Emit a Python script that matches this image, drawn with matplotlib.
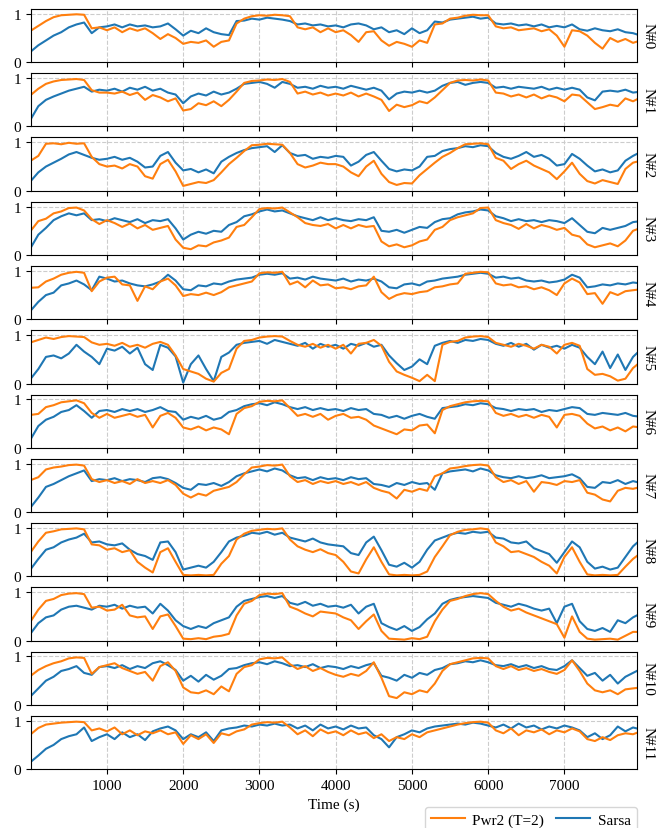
import numpy as np
import matplotlib
matplotlib.use("Agg")
import matplotlib.pyplot as plt

# Sampling instants (s) for every trace
times = np.arange(0, 8001, 100)

node_labels = [f"N#{i}" for i in range(12)]
series_names = ["Pwr2 (T=2)", "Sarsa"]

# ---- per-node traces: Pwr2 (T=2) and Sarsa ----
pwr2_n0 = [
    0.65, 0.75, 0.85, 0.93, 0.97, 0.98, 0.99, 0.98, 0.70, 0.72,
    0.66, 0.72, 0.62, 0.70, 0.65, 0.70, 0.60, 0.48, 0.58, 0.50,
    0.38, 0.42, 0.40, 0.45, 0.32, 0.42, 0.45, 0.80, 0.90, 0.95,
    0.97, 0.96, 0.98, 0.97, 0.95, 0.72, 0.68, 0.72, 0.62, 0.70,
    0.62, 0.66, 0.56, 0.42, 0.62, 0.64, 0.45, 0.34, 0.42, 0.38,
    0.32, 0.45, 0.40, 0.78, 0.80, 0.90, 0.92, 0.96, 0.98, 0.97,
    0.97, 0.74, 0.70, 0.72, 0.66, 0.68, 0.70, 0.64, 0.68, 0.55,
    0.32, 0.66, 0.64, 0.55, 0.40, 0.28, 0.50, 0.42, 0.48, 0.40, 0.45]
sarsa_n0 = [
    0.22, 0.35, 0.45, 0.55, 0.62, 0.72, 0.78, 0.82, 0.60, 0.72,
    0.74, 0.78, 0.72, 0.78, 0.74, 0.76, 0.72, 0.74, 0.80, 0.68,
    0.55, 0.65, 0.60, 0.70, 0.62, 0.58, 0.56, 0.85, 0.86, 0.90,
    0.88, 0.92, 0.90, 0.88, 0.85, 0.78, 0.80, 0.76, 0.78, 0.74,
    0.76, 0.72, 0.78, 0.80, 0.76, 0.68, 0.72, 0.62, 0.66, 0.58,
    0.70, 0.60, 0.66, 0.84, 0.82, 0.88, 0.90, 0.92, 0.94, 0.90,
    0.92, 0.80, 0.78, 0.80, 0.76, 0.78, 0.74, 0.78, 0.72, 0.75,
    0.72, 0.78, 0.68, 0.65, 0.70, 0.66, 0.64, 0.68, 0.62, 0.60, 0.55]

pwr2_n1 = [
    0.65, 0.78, 0.88, 0.93, 0.96, 0.97, 0.98, 0.96, 0.75, 0.70,
    0.70, 0.68, 0.72, 0.65, 0.70, 0.55, 0.65, 0.60, 0.52, 0.58,
    0.33, 0.36, 0.48, 0.44, 0.52, 0.42, 0.55, 0.72, 0.90, 0.94,
    0.95, 0.97, 0.96, 0.98, 0.92, 0.68, 0.72, 0.66, 0.70, 0.64,
    0.68, 0.64, 0.70, 0.62, 0.68, 0.62, 0.55, 0.32, 0.45, 0.40,
    0.44, 0.52, 0.48, 0.60, 0.75, 0.90, 0.95, 0.96, 0.95, 0.97,
    0.95, 0.70, 0.68, 0.62, 0.66, 0.60, 0.66, 0.58, 0.64, 0.60,
    0.52, 0.66, 0.64, 0.50, 0.36, 0.40, 0.45, 0.42, 0.58, 0.52, 0.60]
sarsa_n1 = [
    0.15, 0.42, 0.55, 0.62, 0.68, 0.74, 0.78, 0.82, 0.72, 0.76,
    0.74, 0.78, 0.72, 0.80, 0.76, 0.82, 0.74, 0.78, 0.70, 0.66,
    0.48, 0.62, 0.68, 0.64, 0.72, 0.66, 0.70, 0.78, 0.88, 0.90,
    0.92, 0.88, 0.80, 0.92, 0.88, 0.80, 0.82, 0.78, 0.84, 0.80,
    0.82, 0.78, 0.84, 0.80, 0.76, 0.80, 0.74, 0.56, 0.68, 0.72,
    0.70, 0.74, 0.70, 0.74, 0.84, 0.90, 0.92, 0.86, 0.90, 0.92,
    0.90, 0.80, 0.82, 0.78, 0.82, 0.80, 0.78, 0.82, 0.76, 0.80,
    0.76, 0.80, 0.76, 0.60, 0.54, 0.72, 0.74, 0.72, 0.76, 0.70, 0.72]

pwr2_n2 = [
    0.62, 0.72, 0.97, 0.98, 0.96, 0.99, 0.97, 0.98, 0.70, 0.55,
    0.50, 0.52, 0.46, 0.55, 0.50, 0.30, 0.25, 0.55, 0.64, 0.40,
    0.10, 0.14, 0.18, 0.16, 0.22, 0.38, 0.55, 0.68, 0.82, 0.94,
    0.95, 0.97, 0.96, 0.95, 0.78, 0.55, 0.48, 0.52, 0.58, 0.55,
    0.55, 0.50, 0.38, 0.30, 0.50, 0.62, 0.35, 0.18, 0.12, 0.16,
    0.15, 0.32, 0.45, 0.58, 0.70, 0.78, 0.88, 0.96, 0.97, 0.98,
    0.96, 0.68, 0.62, 0.45, 0.55, 0.62, 0.52, 0.45, 0.38, 0.24,
    0.40, 0.58, 0.35, 0.20, 0.15, 0.22, 0.18, 0.14, 0.45, 0.58, 0.62]
sarsa_n2 = [
    0.20, 0.38, 0.50, 0.58, 0.66, 0.75, 0.80, 0.74, 0.68, 0.64,
    0.66, 0.70, 0.64, 0.68, 0.60, 0.48, 0.50, 0.72, 0.80, 0.58,
    0.42, 0.45, 0.38, 0.44, 0.36, 0.60, 0.70, 0.78, 0.84, 0.88,
    0.90, 0.92, 0.80, 0.94, 0.78, 0.72, 0.74, 0.66, 0.70, 0.68,
    0.72, 0.70, 0.52, 0.60, 0.74, 0.80, 0.62, 0.45, 0.40, 0.44,
    0.42, 0.50, 0.70, 0.72, 0.82, 0.86, 0.88, 0.92, 0.90, 0.94,
    0.92, 0.78, 0.70, 0.66, 0.72, 0.80, 0.70, 0.74, 0.66, 0.52,
    0.55, 0.76, 0.66, 0.52, 0.40, 0.44, 0.38, 0.42, 0.62, 0.72, 0.80]

pwr2_n3 = [
    0.50, 0.70, 0.75, 0.86, 0.90, 0.97, 0.98, 0.92, 0.74, 0.64,
    0.72, 0.66, 0.58, 0.65, 0.55, 0.62, 0.52, 0.56, 0.60, 0.32,
    0.15, 0.12, 0.20, 0.18, 0.26, 0.30, 0.36, 0.58, 0.62, 0.78,
    0.95, 0.97, 0.96, 0.98, 0.88, 0.78, 0.66, 0.62, 0.60, 0.64,
    0.55, 0.62, 0.55, 0.62, 0.58, 0.60, 0.28, 0.18, 0.22, 0.16,
    0.20, 0.28, 0.32, 0.52, 0.58, 0.72, 0.78, 0.82, 0.86, 0.97,
    0.98, 0.72, 0.66, 0.62, 0.54, 0.64, 0.55, 0.62, 0.58, 0.52,
    0.56, 0.42, 0.38, 0.22, 0.16, 0.20, 0.24, 0.18, 0.30, 0.50, 0.56]
sarsa_n3 = [
    0.15, 0.42, 0.56, 0.72, 0.80, 0.86, 0.82, 0.86, 0.72, 0.74,
    0.70, 0.76, 0.72, 0.68, 0.74, 0.66, 0.72, 0.70, 0.74, 0.55,
    0.32, 0.42, 0.48, 0.44, 0.50, 0.48, 0.62, 0.68, 0.80, 0.84,
    0.90, 0.94, 0.90, 0.92, 0.86, 0.80, 0.76, 0.72, 0.78, 0.72,
    0.76, 0.72, 0.70, 0.74, 0.72, 0.78, 0.50, 0.48, 0.52, 0.46,
    0.52, 0.58, 0.56, 0.68, 0.74, 0.76, 0.84, 0.88, 0.90, 0.94,
    0.92, 0.80, 0.76, 0.70, 0.74, 0.70, 0.72, 0.68, 0.72, 0.70,
    0.66, 0.76, 0.62, 0.48, 0.45, 0.56, 0.52, 0.56, 0.60, 0.68, 0.70]

pwr2_n4 = [
    0.65, 0.66, 0.78, 0.84, 0.92, 0.96, 0.98, 0.96, 0.58, 0.78,
    0.86, 0.88, 0.72, 0.70, 0.38, 0.68, 0.62, 0.78, 0.84, 0.70,
    0.48, 0.52, 0.50, 0.55, 0.50, 0.56, 0.66, 0.70, 0.74, 0.78,
    0.95, 0.97, 0.96, 0.98, 0.72, 0.78, 0.66, 0.80, 0.70, 0.72,
    0.64, 0.66, 0.62, 0.68, 0.70, 0.88, 0.56, 0.42, 0.50, 0.54,
    0.52, 0.56, 0.58, 0.66, 0.68, 0.72, 0.74, 0.94, 0.96, 0.98,
    0.97, 0.74, 0.70, 0.72, 0.66, 0.68, 0.62, 0.66, 0.60, 0.50,
    0.74, 0.84, 0.76, 0.52, 0.54, 0.32, 0.56, 0.50, 0.58, 0.60, 0.62]
sarsa_n4 = [
    0.18, 0.36, 0.50, 0.55, 0.70, 0.74, 0.80, 0.72, 0.60, 0.88,
    0.84, 0.78, 0.80, 0.74, 0.70, 0.68, 0.72, 0.78, 0.92, 0.80,
    0.62, 0.60, 0.70, 0.68, 0.74, 0.72, 0.78, 0.82, 0.84, 0.86,
    0.92, 0.94, 0.92, 0.95, 0.84, 0.86, 0.82, 0.88, 0.84, 0.82,
    0.80, 0.84, 0.78, 0.82, 0.80, 0.84, 0.78, 0.66, 0.64, 0.72,
    0.74, 0.70, 0.78, 0.80, 0.84, 0.86, 0.88, 0.92, 0.94, 0.96,
    0.94, 0.86, 0.88, 0.84, 0.86, 0.80, 0.78, 0.80, 0.76, 0.78,
    0.82, 0.92, 0.86, 0.66, 0.68, 0.72, 0.70, 0.74, 0.72, 0.76, 0.74]

pwr2_n5 = [
    0.85, 0.90, 0.95, 0.92, 0.96, 0.98, 0.97, 0.96, 0.85, 0.80,
    0.82, 0.78, 0.84, 0.76, 0.80, 0.74, 0.82, 0.86, 0.80, 0.58,
    0.30, 0.25, 0.20, 0.10, 0.04, 0.22, 0.30, 0.72, 0.88, 0.90,
    0.95, 0.97, 0.98, 0.97, 0.88, 0.80, 0.76, 0.82, 0.74, 0.80,
    0.72, 0.80, 0.62, 0.82, 0.84, 0.90, 0.78, 0.45, 0.25, 0.18,
    0.12, 0.05, 0.18, 0.05, 0.80, 0.86, 0.88, 0.95, 0.97, 0.98,
    0.96, 0.84, 0.80, 0.76, 0.82, 0.78, 0.72, 0.80, 0.76, 0.62,
    0.80, 0.84, 0.78, 0.30, 0.18, 0.20, 0.15, 0.06, 0.10, 0.32, 0.45]
sarsa_n5 = [
    0.10, 0.30, 0.55, 0.58, 0.52, 0.62, 0.80, 0.66, 0.55, 0.40,
    0.72, 0.68, 0.76, 0.62, 0.74, 0.40, 0.28, 0.80, 0.74, 0.56,
    0.02, 0.40, 0.58, 0.30, 0.05, 0.55, 0.64, 0.80, 0.84, 0.86,
    0.88, 0.82, 0.90, 0.86, 0.82, 0.78, 0.84, 0.72, 0.82, 0.76,
    0.80, 0.72, 0.82, 0.78, 0.84, 0.76, 0.80, 0.58, 0.42, 0.28,
    0.35, 0.50, 0.40, 0.78, 0.84, 0.88, 0.84, 0.90, 0.88, 0.92,
    0.90, 0.82, 0.78, 0.84, 0.76, 0.82, 0.70, 0.80, 0.74, 0.78,
    0.72, 0.80, 0.74, 0.55, 0.40, 0.66, 0.32, 0.60, 0.28, 0.55, 0.70]

pwr2_n6 = [
    0.68, 0.70, 0.84, 0.88, 0.94, 0.96, 0.98, 0.92, 0.72, 0.62,
    0.70, 0.62, 0.66, 0.70, 0.64, 0.68, 0.42, 0.66, 0.72, 0.62,
    0.42, 0.38, 0.44, 0.36, 0.42, 0.38, 0.28, 0.70, 0.82, 0.86,
    0.95, 0.97, 0.96, 0.98, 0.82, 0.66, 0.70, 0.64, 0.70, 0.58,
    0.66, 0.70, 0.62, 0.64, 0.58, 0.46, 0.40, 0.34, 0.28, 0.38,
    0.36, 0.46, 0.48, 0.30, 0.78, 0.86, 0.90, 0.94, 0.96, 0.97,
    0.96, 0.72, 0.66, 0.70, 0.64, 0.68, 0.62, 0.68, 0.64, 0.42,
    0.68, 0.70, 0.66, 0.50, 0.40, 0.44, 0.36, 0.42, 0.34, 0.44, 0.42]
sarsa_n6 = [
    0.18, 0.45, 0.58, 0.64, 0.74, 0.78, 0.88, 0.76, 0.62, 0.76,
    0.78, 0.74, 0.80, 0.76, 0.80, 0.74, 0.78, 0.84, 0.76, 0.74,
    0.58, 0.64, 0.60, 0.66, 0.58, 0.62, 0.74, 0.78, 0.86, 0.90,
    0.92, 0.88, 0.94, 0.90, 0.84, 0.80, 0.84, 0.78, 0.82, 0.78,
    0.80, 0.76, 0.82, 0.78, 0.80, 0.70, 0.68, 0.62, 0.66, 0.60,
    0.66, 0.70, 0.64, 0.60, 0.82, 0.84, 0.86, 0.90, 0.88, 0.92,
    0.90, 0.82, 0.80, 0.76, 0.80, 0.78, 0.80, 0.74, 0.78, 0.76,
    0.80, 0.84, 0.82, 0.70, 0.68, 0.72, 0.70, 0.68, 0.72, 0.66, 0.64]

pwr2_n7 = [
    0.66, 0.72, 0.88, 0.92, 0.94, 0.97, 0.98, 0.96, 0.68, 0.62,
    0.66, 0.60, 0.64, 0.58, 0.68, 0.60, 0.64, 0.60, 0.66, 0.56,
    0.38, 0.30, 0.38, 0.34, 0.44, 0.48, 0.52, 0.62, 0.78, 0.92,
    0.94, 0.97, 0.96, 0.98, 0.74, 0.62, 0.66, 0.58, 0.64, 0.60,
    0.64, 0.58, 0.62, 0.56, 0.62, 0.50, 0.44, 0.40, 0.28, 0.46,
    0.42, 0.48, 0.44, 0.74, 0.80, 0.90, 0.92, 0.95, 0.97, 0.98,
    0.96, 0.72, 0.62, 0.66, 0.58, 0.64, 0.42, 0.62, 0.60, 0.56,
    0.64, 0.62, 0.66, 0.40, 0.36, 0.26, 0.22, 0.44, 0.50, 0.48, 0.52]
sarsa_n7 = [
    0.10, 0.30, 0.52, 0.58, 0.66, 0.74, 0.80, 0.86, 0.64, 0.68,
    0.66, 0.70, 0.64, 0.68, 0.66, 0.62, 0.70, 0.72, 0.68, 0.60,
    0.50, 0.46, 0.58, 0.56, 0.60, 0.54, 0.62, 0.74, 0.80, 0.84,
    0.88, 0.84, 0.90, 0.86, 0.76, 0.70, 0.72, 0.66, 0.72, 0.68,
    0.70, 0.66, 0.72, 0.68, 0.70, 0.58, 0.56, 0.52, 0.60, 0.56,
    0.62, 0.58, 0.60, 0.46, 0.80, 0.84, 0.86, 0.88, 0.84, 0.90,
    0.86, 0.76, 0.72, 0.70, 0.74, 0.70, 0.72, 0.76, 0.70, 0.72,
    0.74, 0.78, 0.70, 0.52, 0.50, 0.62, 0.60, 0.66, 0.58, 0.64, 0.60]

pwr2_n8 = [
    0.50, 0.72, 0.90, 0.93, 0.97, 0.98, 0.99, 0.97, 0.66, 0.64,
    0.55, 0.58, 0.50, 0.54, 0.30, 0.18, 0.08, 0.50, 0.58, 0.30,
    0.03, 0.02, 0.03, 0.02, 0.03, 0.26, 0.42, 0.76, 0.88, 0.94,
    0.96, 0.98, 0.97, 0.99, 0.76, 0.62, 0.55, 0.50, 0.56, 0.48,
    0.44, 0.30, 0.10, 0.06, 0.35, 0.60, 0.30, 0.04, 0.02, 0.03,
    0.02, 0.03, 0.10, 0.40, 0.62, 0.85, 0.92, 0.96, 0.97, 0.99,
    0.97, 0.70, 0.62, 0.50, 0.52, 0.46, 0.40, 0.30, 0.22, 0.06,
    0.40, 0.60, 0.30, 0.04, 0.02, 0.03, 0.02, 0.03, 0.20, 0.36, 0.48]
sarsa_n8 = [
    0.15, 0.36, 0.55, 0.60, 0.70, 0.76, 0.80, 0.88, 0.70, 0.72,
    0.66, 0.64, 0.68, 0.55, 0.46, 0.42, 0.34, 0.70, 0.72, 0.50,
    0.14, 0.18, 0.22, 0.18, 0.30, 0.50, 0.72, 0.80, 0.84, 0.90,
    0.88, 0.92, 0.86, 0.90, 0.80, 0.76, 0.72, 0.78, 0.70, 0.66,
    0.64, 0.62, 0.48, 0.44, 0.70, 0.82, 0.54, 0.24, 0.20, 0.28,
    0.18, 0.30, 0.55, 0.74, 0.80, 0.86, 0.90, 0.88, 0.92, 0.90,
    0.92, 0.80, 0.78, 0.70, 0.68, 0.72, 0.58, 0.52, 0.46, 0.28,
    0.50, 0.72, 0.60, 0.30, 0.16, 0.20, 0.14, 0.18, 0.40, 0.62, 0.76]

pwr2_n9 = [
    0.40, 0.64, 0.82, 0.86, 0.94, 0.97, 0.98, 0.96, 0.68, 0.70,
    0.62, 0.64, 0.74, 0.52, 0.48, 0.50, 0.24, 0.50, 0.54, 0.30,
    0.04, 0.03, 0.05, 0.03, 0.08, 0.10, 0.14, 0.52, 0.76, 0.82,
    0.94, 0.97, 0.96, 0.98, 0.70, 0.64, 0.56, 0.50, 0.60, 0.58,
    0.56, 0.48, 0.42, 0.24, 0.40, 0.54, 0.20, 0.04, 0.03, 0.02,
    0.05, 0.03, 0.08, 0.40, 0.64, 0.82, 0.86, 0.92, 0.96, 0.98,
    0.96, 0.82, 0.70, 0.62, 0.66, 0.58, 0.52, 0.46, 0.40, 0.34,
    0.06, 0.50, 0.18, 0.04, 0.02, 0.03, 0.04, 0.02, 0.10, 0.18, 0.18]
sarsa_n9 = [
    0.15, 0.36, 0.48, 0.52, 0.64, 0.70, 0.72, 0.68, 0.64, 0.72,
    0.70, 0.74, 0.66, 0.72, 0.68, 0.70, 0.56, 0.76, 0.62, 0.42,
    0.30, 0.24, 0.30, 0.26, 0.36, 0.42, 0.48, 0.70, 0.82, 0.86,
    0.90, 0.92, 0.88, 0.92, 0.78, 0.74, 0.80, 0.72, 0.76, 0.70,
    0.72, 0.68, 0.74, 0.56, 0.70, 0.76, 0.36, 0.28, 0.22, 0.30,
    0.20, 0.28, 0.44, 0.56, 0.76, 0.84, 0.88, 0.90, 0.92, 0.90,
    0.88, 0.78, 0.74, 0.70, 0.76, 0.72, 0.66, 0.62, 0.66, 0.36,
    0.70, 0.76, 0.40, 0.24, 0.20, 0.26, 0.18, 0.42, 0.36, 0.48, 0.56]

pwr2_n10 = [
    0.60, 0.72, 0.80, 0.86, 0.90, 0.96, 0.98, 0.97, 0.64, 0.78,
    0.82, 0.86, 0.76, 0.70, 0.64, 0.68, 0.50, 0.80, 0.88, 0.70,
    0.36, 0.26, 0.24, 0.30, 0.22, 0.38, 0.28, 0.64, 0.78, 0.82,
    0.94, 0.97, 0.96, 0.98, 0.84, 0.74, 0.80, 0.70, 0.76, 0.68,
    0.62, 0.58, 0.64, 0.60, 0.70, 0.88, 0.56, 0.18, 0.14, 0.26,
    0.22, 0.30, 0.26, 0.44, 0.70, 0.84, 0.88, 0.92, 0.96, 0.97,
    0.96, 0.80, 0.74, 0.80, 0.72, 0.76, 0.70, 0.74, 0.68, 0.64,
    0.72, 0.92, 0.70, 0.44, 0.30, 0.26, 0.30, 0.22, 0.32, 0.34, 0.36]
sarsa_n10 = [
    0.18, 0.34, 0.50, 0.58, 0.70, 0.74, 0.80, 0.66, 0.62, 0.78,
    0.80, 0.76, 0.82, 0.74, 0.80, 0.76, 0.86, 0.90, 0.82, 0.72,
    0.50, 0.60, 0.48, 0.62, 0.52, 0.60, 0.74, 0.76, 0.82, 0.86,
    0.88, 0.84, 0.90, 0.86, 0.80, 0.82, 0.78, 0.84, 0.76, 0.80,
    0.78, 0.74, 0.80, 0.76, 0.82, 0.86, 0.60, 0.56, 0.50, 0.62,
    0.56, 0.66, 0.62, 0.72, 0.76, 0.84, 0.86, 0.90, 0.88, 0.92,
    0.88, 0.82, 0.80, 0.84, 0.78, 0.82, 0.76, 0.80, 0.74, 0.72,
    0.80, 0.92, 0.76, 0.60, 0.66, 0.50, 0.62, 0.44, 0.58, 0.66, 0.74]

pwr2_n11 = [
    0.72, 0.85, 0.92, 0.94, 0.96, 0.97, 0.98, 0.97, 0.80, 0.84,
    0.78, 0.86, 0.72, 0.80, 0.70, 0.78, 0.74, 0.80, 0.72, 0.76,
    0.52, 0.70, 0.62, 0.72, 0.54, 0.74, 0.70, 0.78, 0.82, 0.92,
    0.95, 0.97, 0.96, 0.98, 0.86, 0.72, 0.80, 0.68, 0.82, 0.74,
    0.78, 0.70, 0.80, 0.72, 0.76, 0.64, 0.72, 0.58, 0.66, 0.62,
    0.72, 0.66, 0.76, 0.80, 0.84, 0.88, 0.92, 0.95, 0.97, 0.98,
    0.96, 0.80, 0.74, 0.84, 0.70, 0.80, 0.76, 0.82, 0.72, 0.80,
    0.76, 0.84, 0.78, 0.62, 0.58, 0.66, 0.60, 0.70, 0.74, 0.72, 0.78]
sarsa_n11 = [
    0.15, 0.28, 0.42, 0.50, 0.62, 0.68, 0.72, 0.86, 0.58, 0.66,
    0.72, 0.62, 0.76, 0.66, 0.72, 0.60, 0.78, 0.84, 0.88, 0.80,
    0.62, 0.72, 0.66, 0.76, 0.58, 0.80, 0.84, 0.86, 0.90, 0.88,
    0.92, 0.90, 0.94, 0.90, 0.92, 0.84, 0.90, 0.80, 0.92, 0.84,
    0.88, 0.82, 0.90, 0.84, 0.86, 0.70, 0.62, 0.45, 0.66, 0.72,
    0.80, 0.76, 0.84, 0.88, 0.90, 0.92, 0.94, 0.92, 0.96, 0.94,
    0.90, 0.86, 0.92, 0.84, 0.94, 0.86, 0.90, 0.82, 0.88, 0.84,
    0.90, 0.86, 0.80, 0.66, 0.74, 0.62, 0.70, 0.88, 0.78, 0.86, 0.82]

pwr2 = [pwr2_n0, pwr2_n1, pwr2_n2, pwr2_n3, pwr2_n4, pwr2_n5,
        pwr2_n6, pwr2_n7, pwr2_n8, pwr2_n9, pwr2_n10, pwr2_n11]
sarsa = [sarsa_n0, sarsa_n1, sarsa_n2, sarsa_n3, sarsa_n4, sarsa_n5,
         sarsa_n6, sarsa_n7, sarsa_n8, sarsa_n9, sarsa_n10, sarsa_n11]

x_ticks = [1000, 2000, 3000, 4000, 5000, 6000, 7000]

plt.rcParams["font.family"] = "serif"
plt.rcParams["font.serif"] = ["Liberation Serif", "DejaVu Serif"]
plt.rcParams["font.size"] = 11

ORANGE = "#ff7f0e"
BLUE = "#1f77b4"

fig, axes = plt.subplots(12, 1, figsize=(6.62, 8.29), dpi=100, sharex=True)
fig.subplots_adjust(left=0.0464, right=0.962, top=0.988, bottom=0.071, hspace=0.206)

for i, ax in enumerate(axes):
    line_s, = ax.plot(times, sarsa[i], color=BLUE, lw=1.5)
    line_p, = ax.plot(times, pwr2[i], color=ORANGE, lw=1.5)
    ax.set_xlim(0, 7950)
    ax.set_ylim(0, 1.1)
    ax.set_yticks([0, 1])
    ax.set_xticks(x_ticks)
    ax.grid(True, linestyle="--", color="#cccccc", linewidth=0.8)
    ax.set_axisbelow(True)
    ax.tick_params(labelsize=11)
    ax.text(1.008, 0.5, node_labels[i], transform=ax.transAxes,
            rotation=270, va="center", ha="left", fontsize=11)

axes[-1].set_xlabel("Time (s)", fontsize=11)

fig.legend([line_p, line_s], series_names, loc="upper right",
           bbox_to_anchor=(0.962, 0.0253), ncol=2, fontsize=11,
           frameon=True, borderaxespad=0.0, handlelength=2.2,
           handletextpad=0.5, columnspacing=0.8)

fig.savefig("out.png", dpi=100)
